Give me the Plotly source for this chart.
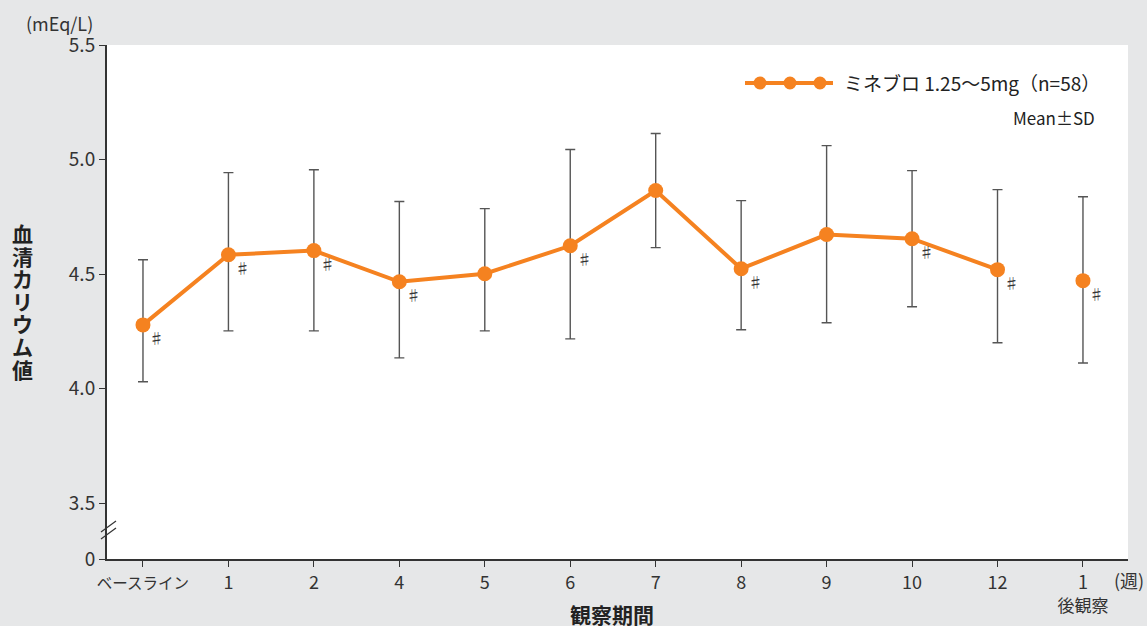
import plotly.graph_objects as go

# ---- data ----
categories = ["<span style='font-size:15.5px'>ベースライン</span>", "1", "2", "4", "5", "6", "7", "8",
              "9", "10", "12", "1<br><span style='font-size:17px'>後観察</span>"]
mean_vals = [4.279, 4.585, 4.603, 4.467, 4.502, 4.624, 4.865, 4.524, 4.673, 4.655, 4.520, 4.472]
upper_vals = [4.563, 4.943, 4.956, 4.817, 4.786, 5.044, 5.114, 4.821, 5.061, 4.952, 4.869, 4.838]
lower_vals = [4.031, 4.253, 4.253, 4.135, 4.253, 4.218, 4.616, 4.258, 4.288, 4.358, 4.201, 4.113]
significant = [True, True, True, True, False, True, False, True, False, True, True, True]
y_tick_vals = [3.5, 4.0, 4.5, 5.0, 5.5]
y_tick_text = ["3.5", "4.0", "4.5", "5.0", "5.5"]
series_name = "ミネブロ 1.25〜5mg（n=58）"

ORANGE = "#f58220"
BG = "#e6e7e8"
AX = "#333333"
FONT = "Noto Sans CJK JP"

W, H = 1147, 626
ML, MR, MT, MB = 107, 19, 45, 67
pw, ph = W - ML - MR, H - MT - MB


def px(x):
    return (x - ML) / pw


def py(y):
    return 1 - (y - MT) / ph


xpos = list(range(len(categories)))
y_bottom = 3.2576  # broken-axis bottom shown as "0"

err_plus = [u - m for u, m in zip(upper_vals, mean_vals)]
err_minus = [m - l for m, l in zip(mean_vals, lower_vals)]

fig = go.Figure()
n_main = len(categories) - 1
fig.add_trace(go.Scatter(
    x=xpos[:n_main], y=mean_vals[:n_main], mode="lines+markers",
    line=dict(color=ORANGE, width=4),
    marker=dict(color=ORANGE, size=15),
    error_y=dict(type="data", symmetric=False, array=err_plus[:n_main],
                 arrayminus=err_minus[:n_main], color="#555555", thickness=1.4, width=5),
    showlegend=False, cliponaxis=False,
))
fig.add_trace(go.Scatter(
    x=xpos[n_main:], y=mean_vals[n_main:], mode="markers",
    marker=dict(color=ORANGE, size=15),
    error_y=dict(type="data", symmetric=False, array=err_plus[n_main:],
                 arrayminus=err_minus[n_main:], color="#555555", thickness=1.4, width=5),
    showlegend=False, cliponaxis=False,
))

for xi, m, s in zip(xpos, mean_vals, significant):
    if s:
        fig.add_annotation(x=xi, y=m, xref="x", yref="y", text="♯", showarrow=False,
                           xanchor="center", yanchor="middle",
                           xshift=14, yshift=-13, font=dict(family=FONT, size=15, color="#333"))


def ann(x, y, text, size, bold=False, xanchor="center", color="#333"):
    f = dict(family=FONT, size=size, color=color)
    if bold:
        f["weight"] = "bold"
    fig.add_annotation(x=px(x), y=py(y), xref="paper", yref="paper", text=text, showarrow=False,
                       xanchor=xanchor, yanchor="middle", font=f)


# y-axis title (vertical stacked characters)
for i, ch in enumerate("血清カリウム値"):
    ann(22, 233 + 22.6 * i, ch, 21, bold=True, color="#222")

ann(59, 23, "(mEq/L)", 18)
ann(612, 614, "観察期間", 21, bold=True, color="#222")
ann(1129, 580, "(週)", 18)
ann(842, 83, series_name, 19, xanchor="left", color="#222")
ann(1097, 118, "Mean±SD", 17, xanchor="right", color="#222")

shapes = [
    dict(type="line", xref="paper", yref="paper", x0=px(745), x1=px(833), y0=py(83), y1=py(83),
         line=dict(color=ORANGE, width=4)),
]
for cx in [760, 790, 820]:
    shapes.append(dict(type="circle", xref="paper", yref="paper", x0=px(cx - 6.5), x1=px(cx + 6.5),
                       y0=py(83 + 6.5), y1=py(83 - 6.5), fillcolor=ORANGE, line=dict(width=0)))
# axis break marks
shapes.append(dict(type="line", xref="paper", yref="paper", x0=px(101), y0=py(532), x1=px(116), y1=py(521),
                   line=dict(color="#333", width=1.2)))
shapes.append(dict(type="line", xref="paper", yref="paper", x0=px(101), y0=py(539), x1=px(116), y1=py(528),
                   line=dict(color="#333", width=1.2)))
fig.update_layout(shapes=shapes)

fig.update_layout(
    width=W, height=H,
    margin=dict(l=ML, r=MR, t=MT, b=MB, autoexpand=False),
    paper_bgcolor=BG, plot_bgcolor="white",
    font=dict(family=FONT, color="#333"),
    xaxis=dict(range=[-0.421, 11.527], tickmode="array", tickvals=xpos, ticktext=categories,
               automargin=False,
               showgrid=False, zeroline=False, showline=True, linecolor=AX, linewidth=2,
               ticks="outside", ticklen=6, tickcolor=AX, tickwidth=1.2,
               tickfont=dict(family=FONT, size=18, color="#333")),
    yaxis=dict(range=[y_bottom, 5.5], tickmode="array", tickvals=[y_bottom] + y_tick_vals,
               ticktext=["0"] + y_tick_text, automargin=False,
               showgrid=False, zeroline=False, showline=True, linecolor=AX, linewidth=2,
               ticks="outside", ticklen=6, tickcolor=AX, tickwidth=1.2,
               tickfont=dict(family=FONT, size=19, color="#333")),
)

fig.write_html("out.html", config={"displayModeBar": False},
               post_script="document.body.style.margin='0';document.body.style.overflow='hidden';")
